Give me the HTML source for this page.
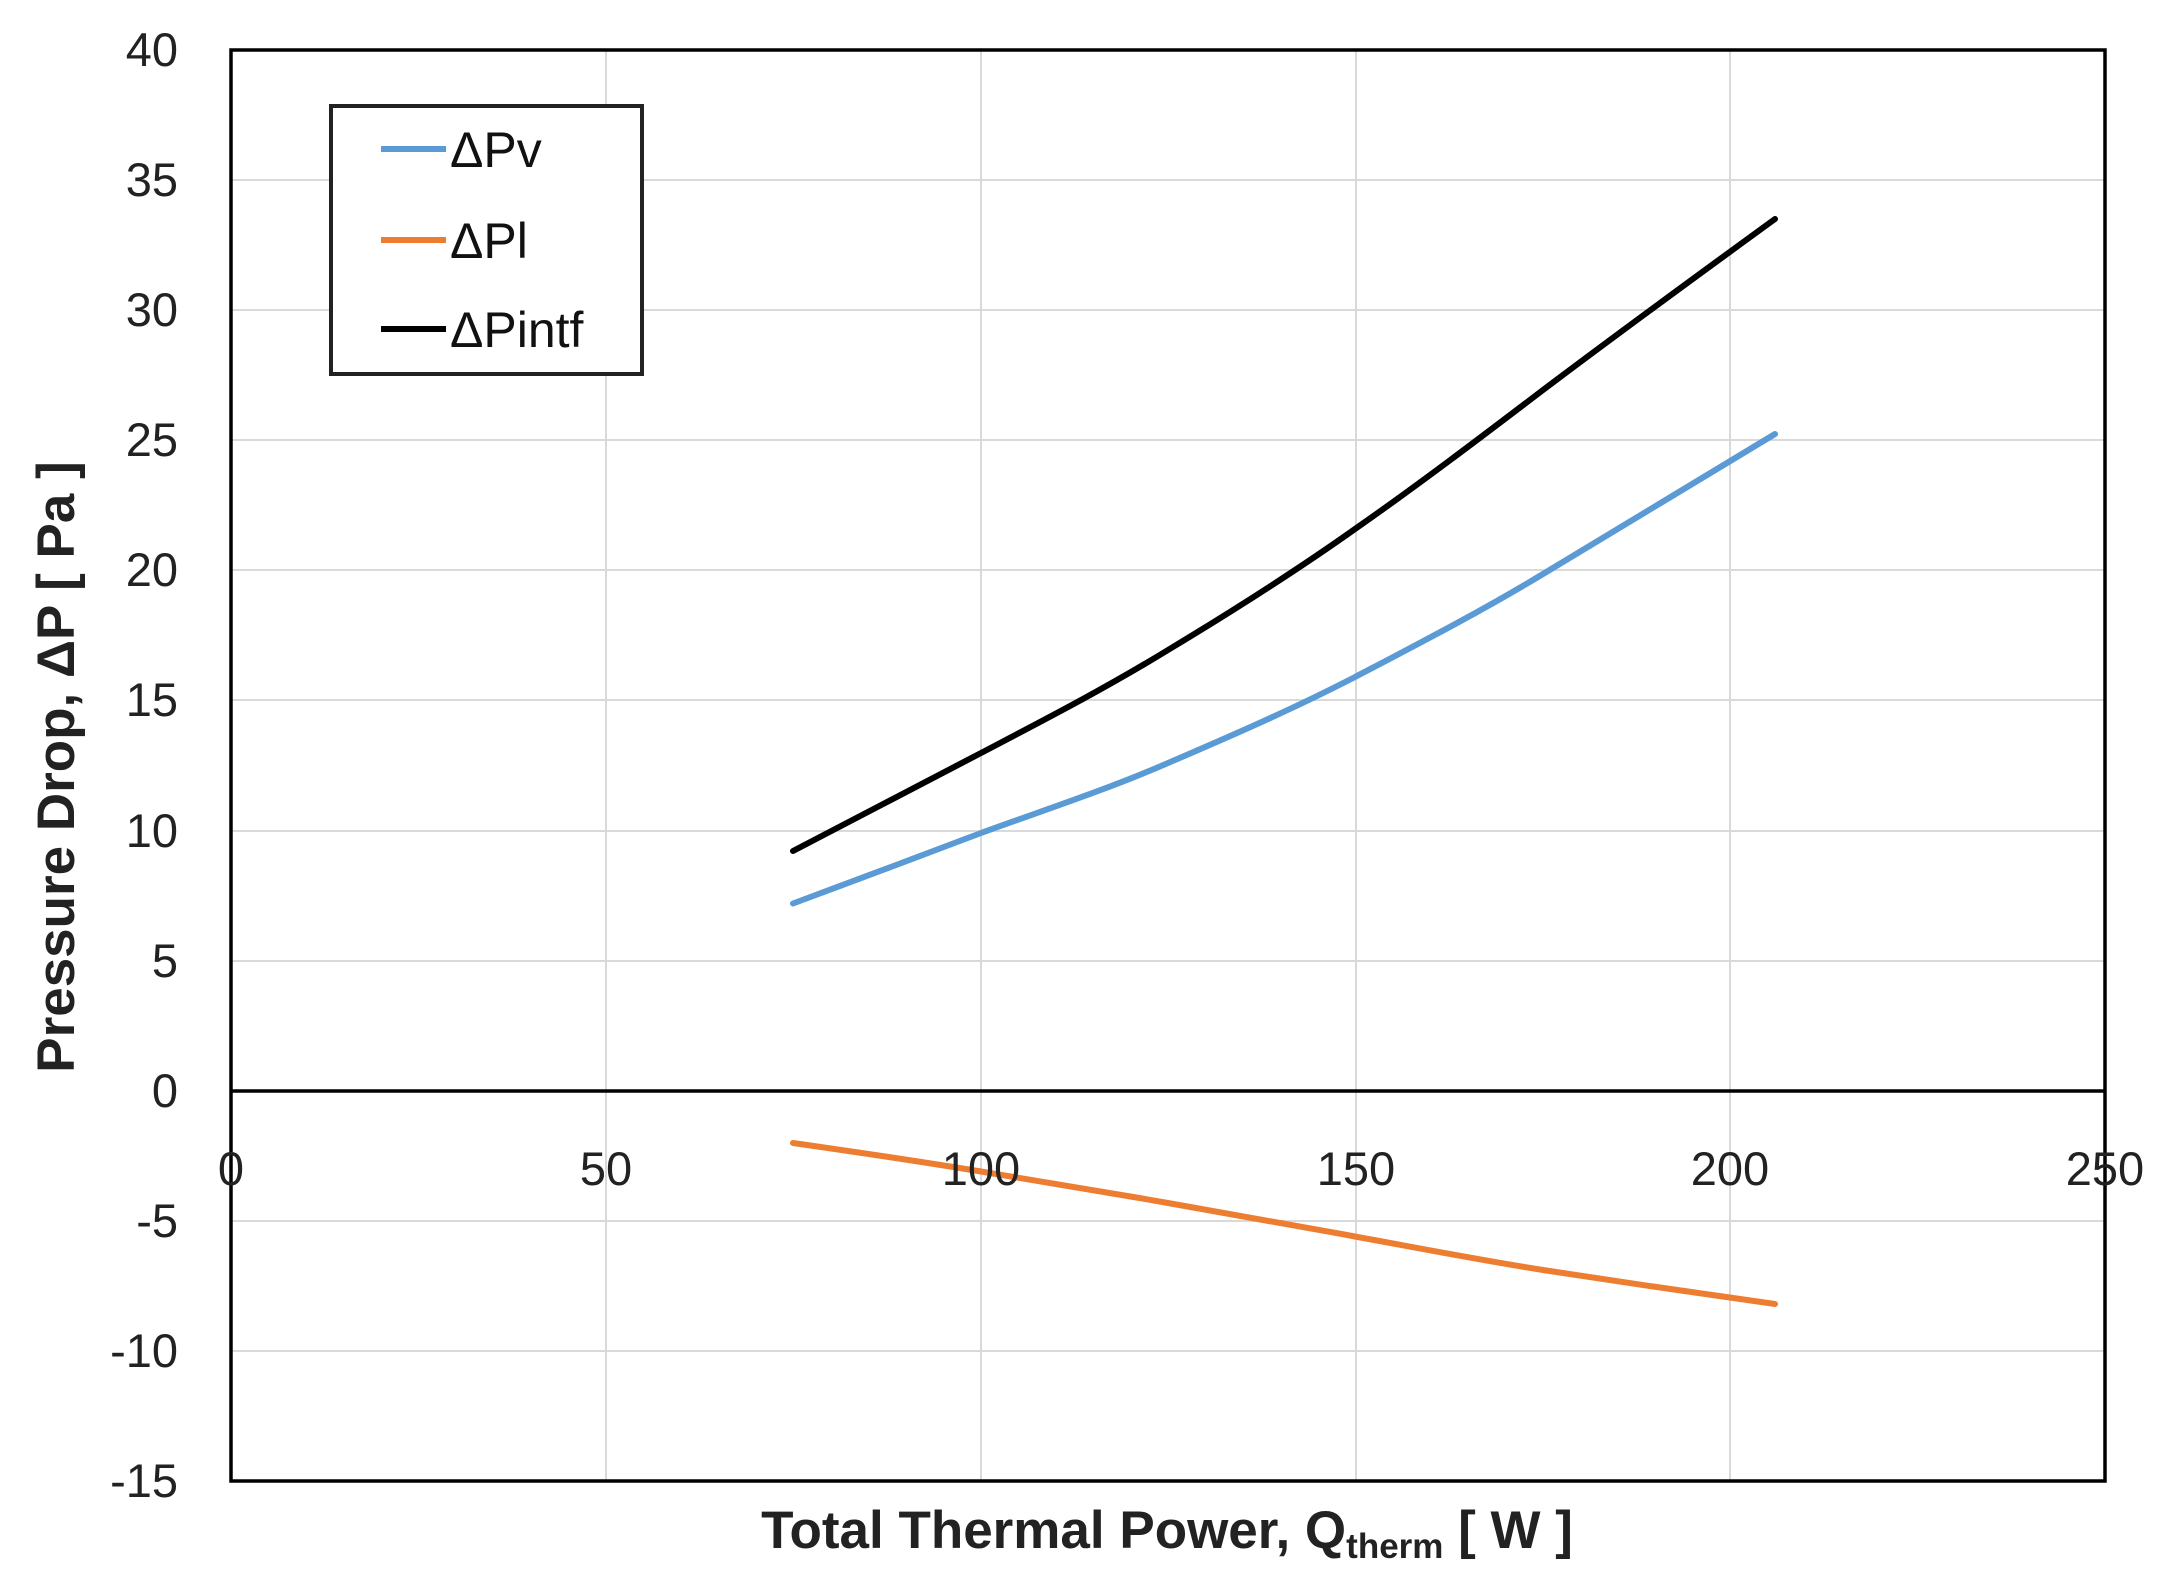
<!DOCTYPE html>
<html><head><style>html,body{margin:0;padding:0;background:#fff}</style></head><body>
<svg width="2166" height="1581" viewBox="0 0 2166 1581" xmlns="http://www.w3.org/2000/svg" font-family="Liberation Sans, sans-serif">
<rect width="2166" height="1581" fill="#fff"/>
<g stroke="#d9d9d9" stroke-width="2">
<line x1="606" y1="50" x2="606" y2="1481"/><line x1="981" y1="50" x2="981" y2="1481"/><line x1="1356" y1="50" x2="1356" y2="1481"/><line x1="1730" y1="50" x2="1730" y2="1481"/>
<line x1="231" y1="180" x2="2105" y2="180"/><line x1="231" y1="310" x2="2105" y2="310"/><line x1="231" y1="440" x2="2105" y2="440"/><line x1="231" y1="570" x2="2105" y2="570"/><line x1="231" y1="700" x2="2105" y2="700"/><line x1="231" y1="831" x2="2105" y2="831"/><line x1="231" y1="961" x2="2105" y2="961"/><line x1="231" y1="1221" x2="2105" y2="1221"/><line x1="231" y1="1351" x2="2105" y2="1351"/>
</g>
<rect x="231" y="50" width="1874" height="1431" fill="none" stroke="#000" stroke-width="3.5"/>
<line x1="231" y1="1091" x2="2105" y2="1091" stroke="#000" stroke-width="3.5"/>
<g fill="none" stroke-width="6" stroke-linejoin="round" stroke-linecap="round">
<path stroke="#5b9bd5" d="M793,903.5 C856,880 918,857 981,833 C1044,810 1106,790 1168,763 C1231,736 1293,709 1355,677 C1418,644 1480,612 1543,574 C1620,528 1698,480 1775,434"/>
<path stroke="#000" d="M793,851 C856,818 918,786 981,753 C1044,720 1106,688 1168,650 C1231,612 1293,573 1355,529 C1418,485 1480,438 1543,390 C1620,332 1698,275 1775,219"/>
<path stroke="#ed7d31" d="M793,1143 C856,1152 918,1161 981,1171.5 C1044,1182 1106,1192 1168,1203 C1231,1214 1293,1225 1355,1236.5 C1418,1248 1480,1260 1543,1270 C1620,1282 1698,1293 1775,1304"/>
</g>
<g font-size="47" fill="#222" text-anchor="end">
<text x="178" y="66">40</text><text x="178" y="196">35</text><text x="178" y="326">30</text><text x="178" y="456">25</text><text x="178" y="586">20</text><text x="178" y="716">15</text><text x="178" y="847">10</text><text x="178" y="977">5</text><text x="178" y="1107">0</text><text x="178" y="1237">-5</text><text x="178" y="1367">-10</text><text x="178" y="1497">-15</text>
</g>
<g font-size="47" fill="#222" text-anchor="middle">
<text x="231" y="1185">0</text><text x="606" y="1185">50</text><text x="981" y="1185">100</text><text x="1356" y="1185">150</text><text x="1730" y="1185">200</text><text x="2105" y="1185">250</text>
</g>
<text x="1167" y="1548" font-size="53" font-weight="bold" fill="#222" text-anchor="middle">Total Thermal Power, Q<tspan font-size="35" dy="10">therm</tspan><tspan dy="-10"> [ W ]</tspan></text>
<text transform="translate(74,767) rotate(-90)" font-size="53" font-weight="bold" fill="#222" text-anchor="middle">Pressure Drop, ΔP [ Pa ]</text>
<rect x="331" y="106" width="311" height="268" fill="#fff" stroke="#222" stroke-width="4"/>
<line x1="381" y1="149" x2="446" y2="149" stroke="#5b9bd5" stroke-width="6"/>
<line x1="381" y1="240" x2="446" y2="240" stroke="#ed7d31" stroke-width="6"/>
<line x1="381" y1="329" x2="446" y2="329" stroke="#000" stroke-width="6"/>
<g font-size="50" fill="#111">
<text x="450" y="167">ΔPv</text><text x="450" y="258">ΔPl</text><text x="450" y="347">ΔPintf</text>
</g>
</svg>
</body></html>
